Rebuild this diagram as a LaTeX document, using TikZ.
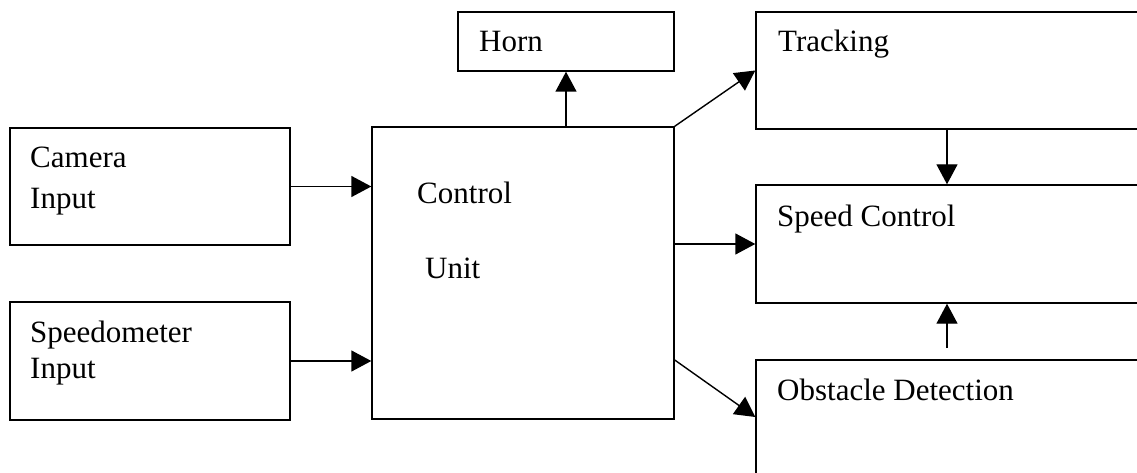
\documentclass[tikz,border=0pt]{standalone}
\usepackage{fontspec}
\setmainfont{Liberation Serif}
\usetikzlibrary{arrows.meta,calc}
\begin{document}
\begin{tikzpicture}[x=1pt,y=-1pt,
  box/.style={draw,line width=1.4pt,rectangle,inner sep=0pt},
  lbl/.style={anchor=base west,inner sep=0pt,font=\fontsize{31}{40}\selectfont},
  conn/.style={line width=1.4pt,-{Triangle[length=20pt,width=21pt]}}]
\clip (0,0) rectangle (1137,473);
% boxes
\node[box,minimum width=280pt,minimum height=117pt] (cam) at (150,186.5) {};
\node[box,minimum width=280pt,minimum height=118pt] (spm) at (150,361) {};
\node[box,minimum width=302pt,minimum height=292pt] (cu) at (523,273) {};
\node[box,minimum width=216pt,minimum height=59pt] (horn) at (566,41.5) {};
\node[box,minimum width=400pt,minimum height=117pt] (trk) at (956,70.5) {};
\node[box,minimum width=400pt,minimum height=118pt] (spd) at (956,244) {};
\node[box,minimum width=400pt,minimum height=114pt] (obs) at (956,417) {};
% texts
\node[lbl] (t1) at (30,168) {Camera};
\node[lbl] (t2) at (30,208) {Input};
\node[lbl] (t3) at (30,342) {Speedometer};
\node[lbl] (t4) at (30,378) {Input};
\node[lbl] (t5) at (417,204) {Control};
\node[lbl] (t6) at (425,278) {Unit};
\node[lbl] (t7) at (479,52) {Horn};
\node[lbl] (t8) at (778,52) {Tracking};
\node[lbl] (t9) at (777,226) {Speed Control};
\node[lbl] (t10) at (777,400) {Obstacle Detection};
% helper coordinates
\coordinate (vx) at (947,0);
\coordinate (oy) at (0,360);
\coordinate (ux) at (947,348);
% connectors
\draw[conn] (cam.east) -- (cam.east -| cu.west);
\draw[conn] (spm.east) -- (spm.east -| cu.west);
\draw[conn] (horn.south |- cu.north) -- (horn.south);
\draw[conn] (cu.north east) -- (trk.west);
\draw[conn] (cu.east |- spd.west) -- (spd.west);
\draw[conn] (cu.east |- oy) -- (obs.west);
\draw[conn] (trk.south -| vx) -- (spd.north -| vx);
\draw[conn] (ux) -- (spd.south -| vx);
\end{tikzpicture}
\end{document}
